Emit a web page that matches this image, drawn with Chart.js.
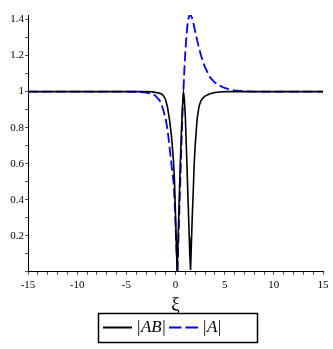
<!DOCTYPE html>
<html>
<head>
<meta charset="UTF-8">
<script src="https://cdn.jsdelivr.net/npm/chart.js"></script>
<style>
  html, body { margin: 0; padding: 0; background: #fff; }
  #wrap { width: 333px; height: 349px; }
</style>
</head>
<body>
<div id="wrap"><canvas id="c"></canvas></div>
<script>
// xi grid and the two curves
const xi = [-15, -6, -4, -3.5, -3, -2.5, -2.2, -2, -1.8, -1.6, -1.4, -1.2, -1, -0.8, -0.6, -0.4, -0.2, -0.1, 0, 0.1, 0.17, 0.2, 0.3, 0.4, 0.5, 0.6, 0.7, 0.82, 0.9, 1, 1.1, 1.2, 1.3, 1.4, 1.45, 1.53, 1.6, 1.7, 1.8, 1.9, 2, 2.2, 2.4, 2.6, 2.8, 3, 3.5, 4, 4.5, 5, 5.5, 6, 7, 8, 15];
const absAB = [1, 1, 1, 1, 1, 0.999, 0.997, 0.995, 0.993, 0.99, 0.987, 0.975, 0.955, 0.91, 0.84, 0.75, 0.61, 0.5, 0.32, 0.12, 0.0, 0.06, 0.25, 0.45, 0.62, 0.78, 0.91, 0.99, 0.96, 0.86, 0.7, 0.53, 0.36, 0.19, 0.1, 0.01, 0.13, 0.3, 0.44, 0.6, 0.7, 0.85, 0.92, 0.95, 0.965, 0.975, 0.988, 0.995, 0.998, 1, 1, 1, 1, 1, 1];
const absA = [1, 1, 0.999, 0.997, 0.994, 0.99, 0.982, 0.975, 0.962, 0.95, 0.925, 0.89, 0.85, 0.785, 0.69, 0.59, 0.5, 0.4, 0.26, 0.12, 0.04, 0.0, 0.18, 0.35, 0.52, 0.7, 0.86, 1.02, 1.12, 1.22, 1.3, 1.36, 1.4, 1.42, 1.425, 1.425, 1.42, 1.405, 1.385, 1.36, 1.335, 1.285, 1.24, 1.2, 1.165, 1.135, 1.08, 1.05, 1.033, 1.02, 1.012, 1.007, 1.002, 1, 1];
const seriesLabels = ['|AB|', '|A|'];
const yTicks = [0, 0.1, 0.2, 0.3, 0.4, 0.5, 0.6, 0.7, 0.8, 0.9, 1, 1.1, 1.2, 1.3, 1.4];

const serif = "'Liberation Serif', 'DejaVu Serif', serif";

// maple-like boxed legend under the axis title
const boxLegend = {
  id: 'boxLegend',
  afterDraw(chart) {
    const ctx = chart.ctx;
    const bx = 98, by = 313, bw = 159, bh = 29;
    const cy = by + bh / 2;
    const starts = [103, 169];
    ctx.save();
    ctx.strokeStyle = '#000';
    ctx.lineWidth = 1.5;
    ctx.strokeRect(bx + 0.5, by + 0.5, bw, bh);
    chart.data.datasets.forEach((ds, i) => {
      const x = starts[i];
      ctx.strokeStyle = ds.borderColor;
      ctx.lineWidth = ds.borderWidth + 0.4;
      ctx.setLineDash(ds.borderDash ? [12.5, 4] : []);
      ctx.beginPath();
      ctx.moveTo(x, cy);
      ctx.lineTo(x + 29, cy);
      ctx.stroke();
      ctx.setLineDash([]);
      // bars upright, letters italic
      const inner = ds.label.slice(1, -1);
      const up = '17px ' + serif, it = 'italic 17px ' + serif;
      ctx.fillStyle = '#000';
      ctx.textBaseline = 'middle';
      let tx = x + 34;
      ctx.font = up; ctx.fillText('|', tx, cy); tx += ctx.measureText('|').width + 0.5;
      ctx.font = it; ctx.fillText(inner, tx, cy); tx += ctx.measureText(inner).width + 0.5;
      ctx.font = up; ctx.fillText('|', tx, cy);
    });
    ctx.restore();
  }
};

new Chart(document.getElementById('c'), {
  type: 'line',
  data: {
    datasets: [
      {
        label: seriesLabels[0],
        data: xi.map((x, i) => ({ x: x, y: absAB[i] })),
        borderColor: '#000',
        backgroundColor: '#000',
        borderWidth: 1.6,
        pointRadius: 0,
        tension: 0
      },
      {
        label: seriesLabels[1],
        data: xi.map((x, i) => ({ x: x, y: absA[i] })),
        borderColor: '#0000ff',
        backgroundColor: '#0000ff',
        borderWidth: 1.8,
        borderDash: [10, 4],
        pointRadius: 0,
        tension: 0
      }
    ]
  },
  plugins: [boxLegend],
  options: {
    responsive: true,
    maintainAspectRatio: false,
    animation: false,
    layout: { padding: { top: 15, right: 10, bottom: 32, left: 0 } },
    scales: {
      x: {
        type: 'linear',
        min: -15,
        max: 15,
        border: { display: true, color: '#000', width: 1 },
        grid: { drawOnChartArea: false, drawTicks: true, tickLength: 3, color: '#555' },
        ticks: {
          stepSize: 1,
          autoSkip: false,
          maxRotation: 0,
          padding: 4,
          color: '#000',
          font: { family: serif, size: 11 },
          callback: v => (v % 5 === 0 ? String(v) : '')
        },
        title: {
          display: true,
          text: 'ξ',
          color: '#000',
          font: { family: serif, size: 19, lineHeight: 1 },
          padding: { top: 0, bottom: 2 }
        }
      },
      y: {
        min: 0,
        max: 1.425,
        afterFit: s => { s.width = 28; },
        afterBuildTicks: s => { s.ticks = yTicks.map(v => ({ value: v })); },
        border: { display: true, color: '#000', width: 1 },
        grid: { drawOnChartArea: false, drawTicks: true, tickLength: 3, color: '#555' },
        ticks: {
          autoSkip: false,
          padding: 1,
          color: '#000',
          font: { family: serif, size: 11 },
          callback: v => {
            const k = Math.round(v * 10);
            return (k > 0 && k % 2 === 0) ? String(k / 10) : '';
          }
        }
      }
    },
    plugins: {
      tooltip: { enabled: false },
      legend: { display: false }
    }
  }
});
</script>
</body>
</html>
